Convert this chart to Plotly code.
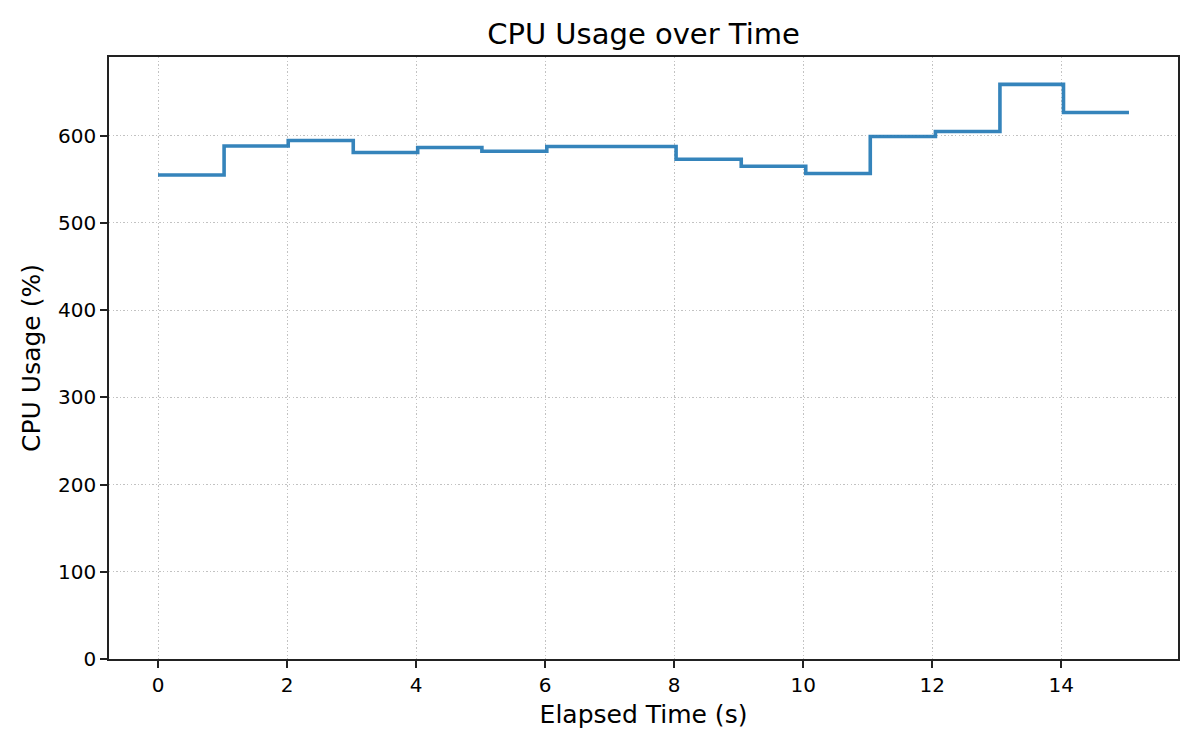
import plotly.graph_objects as go

# Data
elapsed_time = [0, 1.024, 2.018, 3.026, 4.025, 5.02, 6.026, 7.03, 8.03, 9.04,
                10.04, 11.04, 12.05, 13.05, 14.035, 15.05]
cpu_usage = [554.8, 588.0, 594.3, 580.5, 586.2, 582.0, 587.4, 587.4, 572.8, 564.8,
             556.5, 598.9, 604.6, 658.6, 626.4, 626.4]

title_text = "CPU Usage over Time"
x_label = "Elapsed Time (s)"
y_label = "CPU Usage (%)"

FONT = "DejaVu Sans"
W, H = 1184, 734  # page body has an 8px margin

fig = go.Figure()
fig.add_trace(go.Scatter(
    x=elapsed_time, y=cpu_usage, mode="lines",
    line=dict(shape="hv", color="rgba(31,119,180,0.9)", width=3.6),
    showlegend=False, hoverinfo="skip",
))

axis_common = dict(
    showline=True, linecolor="#222222", linewidth=1.6, mirror=True,
    ticks="outside", ticklen=7, tickwidth=1.6, tickcolor="#222222",
    showgrid=True, gridcolor="#c2c2c2", gridwidth=1.4, griddash="1.4px,2.2px",
    zeroline=False,
    tickfont=dict(family=FONT, size=20, color="#000000"),
)

fig.update_layout(
    width=W, height=H,
    margin=dict(l=101, r=14, t=49, b=83),
    paper_bgcolor="white", plot_bgcolor="white",
    font=dict(family=FONT, color="#000000"),
    title=dict(text=title_text, x=0.5, xref="paper", xanchor="center",
               y=1 - 25.5 / H, yanchor="middle", yref="container",
               font=dict(family=FONT, size=29, color="#000000")),
    xaxis=dict(range=[-0.76, 15.81], tickmode="linear", tick0=0, dtick=2,
               title=dict(text=x_label, font=dict(family=FONT, size=25), standoff=10),
               **axis_common),
    yaxis=dict(range=[0, 690], tickmode="linear", tick0=0, dtick=100,
               title=dict(text=y_label, font=dict(family=FONT, size=25), standoff=10),
               **axis_common),
)

fig.write_html("out.html")
